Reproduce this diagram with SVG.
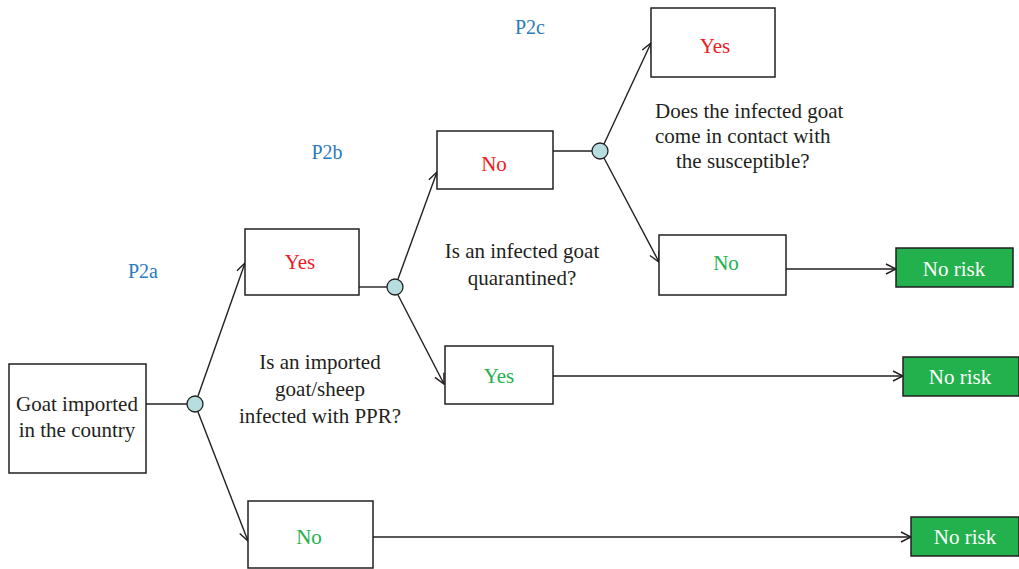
<svg xmlns="http://www.w3.org/2000/svg" width="1019" height="569" viewBox="0 0 1019 569">
<style>
.box{fill:#fff;stroke:#231f20;stroke-width:1.5}
.risk{fill:#22b14c;stroke:#231f20;stroke-width:1.5}
.dot{fill:#b8dde0;stroke:#231f20;stroke-width:1.3}
.ln{fill:none;stroke:#231f20;stroke-width:1.4}
.arr{marker-end:url(#ah)}
text{font-family:"Liberation Serif",serif;font-size:21px;text-anchor:middle}
.k{fill:#231f20}
.r{fill:#ed1c24}
.g{fill:#22b14c}
.w{fill:#fff}
.b{fill:#2a7abf;font-size:20px}
.s{text-anchor:start}
</style>
<defs>
<marker id="ah" viewBox="0 0 12 12" refX="11" refY="6" markerWidth="12" markerHeight="12" markerUnits="userSpaceOnUse" orient="auto">
<path d="M1,1 L11,6 L1,11" fill="none" stroke="#231f20" stroke-width="1.4"/>
</marker>
</defs>
<g id="connectors">
<line class="ln" x1="146" y1="404" x2="187" y2="404"/>
<line class="ln arr" x1="198" y1="396" x2="245" y2="263"/>
<line class="ln arr" x1="198" y1="412" x2="248" y2="541"/>
<line class="ln" x1="359" y1="287" x2="387" y2="287"/>
<line class="ln arr" x1="398" y1="279" x2="437" y2="172"/>
<line class="ln arr" x1="398" y1="295" x2="444" y2="384"/>
<line class="ln arr" x1="553" y1="376" x2="903" y2="376"/>
<line class="ln" x1="553" y1="151" x2="592" y2="151"/>
<line class="ln arr" x1="604" y1="144" x2="651" y2="43"/>
<line class="ln arr" x1="604" y1="158" x2="659" y2="262"/>
<line class="ln arr" x1="786" y1="269" x2="896" y2="269"/>
<line class="ln arr" x1="373" y1="537" x2="911" y2="537"/>
</g>
<g id="n-goat"><rect class="box" x="9" y="364" width="137" height="109"/><text class="k" x="77" y="411">Goat imported</text><text class="k" x="77" y="437">in the country</text></g>
<g id="c1"><circle class="dot" cx="195" cy="404" r="8"/></g>
<g id="c2"><circle class="dot" cx="395" cy="287" r="8"/></g>
<g id="c3"><circle class="dot" cx="600" cy="151" r="8"/></g>
<g id="n-yes1"><rect class="box" x="245" y="229" width="114" height="66"/><text class="r" x="300" y="269">Yes</text></g>
<g id="n-no1"><rect class="box" x="248" y="501" width="125" height="67"/><text class="g" x="309" y="544">No</text></g>
<g id="n-no2"><rect class="box" x="437" y="131" width="116" height="58"/><text class="r" x="494" y="171">No</text></g>
<g id="n-yes2"><rect class="box" x="445" y="346" width="108" height="58"/><text class="g" x="499" y="383">Yes</text></g>
<g id="n-yes3"><rect class="box" x="651" y="8" width="124" height="69"/><text class="r" x="715" y="53">Yes</text></g>
<g id="n-no3"><rect class="box" x="659" y="235" width="127" height="60"/><text class="g" x="726" y="270">No</text></g>
<g id="risk1"><rect class="risk" x="896" y="248" width="117" height="39"/><text class="w" x="954" y="276">No risk</text></g>
<g id="risk2"><rect class="risk" x="903" y="357" width="116" height="39"/><text class="w" x="960" y="384">No risk</text></g>
<g id="risk3"><rect class="risk" x="911" y="517" width="108" height="39"/><text class="w" x="965" y="544">No risk</text></g>
<g id="labels">
<text class="b" x="143" y="278">P2a</text>
<text class="b" x="327" y="159">P2b</text>
<text class="b" x="530" y="34">P2c</text>
<text class="k" x="320" y="369">Is an imported</text>
<text class="k" x="320" y="396">goat/sheep</text>
<text class="k" x="320" y="423">infected with PPR?</text>
<text class="k" x="522" y="258">Is an infected goat</text>
<text class="k" x="522" y="285">quarantined?</text>
<text class="k s" x="655" y="118">Does the infected goat</text>
<text class="k s" x="655" y="143">come in contact with</text>
<text class="k s" x="676" y="168">the susceptible?</text>
</g>
</svg>
